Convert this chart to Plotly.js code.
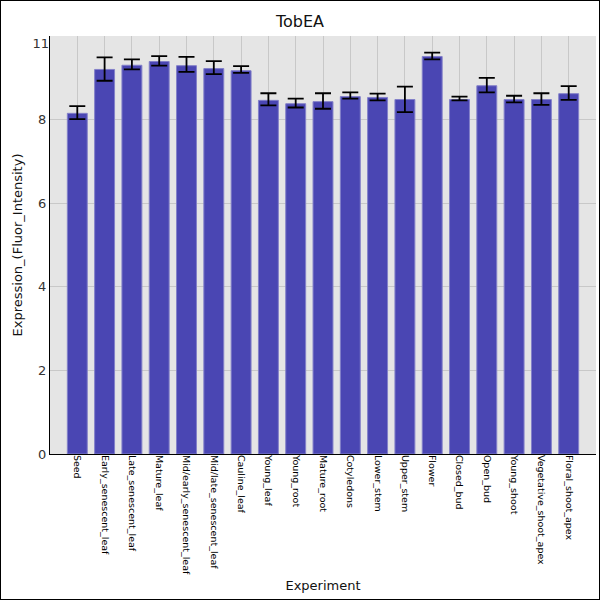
<!DOCTYPE html>
<html>
<head>
<meta charset="utf-8">
<script src="https://cdn.plot.ly/plotly-3.0.1.min.js"></script>
<style>
  body { margin: 0; }
  #wrap { position: relative; width: 600px; height: 600px; }
  #chart { width: 600px; height: 600px; }
  #frame { position: absolute; left: 0; top: 0; width: 600px; height: 600px;
           border: 1px solid #000; box-sizing: border-box; pointer-events: none; }
</style>
</head>
<body>
<div id="wrap">
  <div id="chart"></div>
  <div id="frame"></div>
</div>
<script>
// dados
const experiments = ['Seed', 'Early_senescent_leaf', 'Late_senescent_leaf', 'Mature_leaf',
  'Mid/early_senescent_leaf', 'Mid/late_senescent_leaf', 'Cauline_leaf', 'Young_leaf',
  'Young_root', 'Mature_root', 'Cotyledons', 'Lower_stem', 'Upper_stem', 'Flower',
  'Closed_bud', 'Open_bud', 'Young_shoot', 'Vegetative_shoot_apex', 'Floral_shoot_apex'];
const expression = [8.15, 9.20, 9.30, 9.39, 9.29, 9.22, 9.17, 8.46, 8.38, 8.43,
  8.55, 8.53, 8.48, 9.51, 8.48, 8.81, 8.48, 8.48, 8.62];
const errUp = [0.17, 0.29, 0.14, 0.13, 0.21, 0.18, 0.11, 0.17, 0.12, 0.20,
  0.10, 0.09, 0.31, 0.09, 0.07, 0.19, 0.09, 0.15, 0.18];
const errDown = [0.14, 0.27, 0.10, 0.10, 0.15, 0.13, 0.05, 0.12, 0.09, 0.17,
  0.05, 0.07, 0.30, 0.07, 0.02, 0.16, 0.07, 0.13, 0.15];
const yTicks = [0, 2, 4, 6, 8];
const topTickPos = [9.82];
const topTickText = ['11'];

const fonte = 'DejaVu Sans, sans-serif';

Plotly.newPlot('chart', [{
  type: 'bar',
  x: experiments,
  y: expression,
  marker: { color: '#4a46b3', line: { color: '#8380c9', width: 1 } },
  error_y: { type: 'data', symmetric: false, array: errUp, arrayminus: errDown,
             color: '#000', thickness: 1.8, width: 8 }
}, {
  // só para o rótulo de cima do eixo Y
  type: 'scatter', x: [experiments[0]], y: [0], yaxis: 'y2',
  mode: 'markers', marker: { opacity: 0 }, hoverinfo: 'skip', showlegend: false
}], {
  width: 600, height: 600,
  paper_bgcolor: '#fff',
  plot_bgcolor: '#e5e5e5',
  showlegend: false,
  margin: { l: 50, r: 4, t: 36, b: 146 },
  bargap: 0.27,
  font: { family: fonte, color: '#222' },
  title: { text: 'TobEA', font: { size: 16, family: fonte, color: '#111' }, x: 0.5, y: 0.965, yanchor: 'middle' },
  xaxis: {
    range: [-1, 19],
    tickangle: 90,
    tickfont: { size: 9.5, family: fonte, color: '#000' },
    ticklabelstandoff: -2,
    showgrid: true, gridcolor: '#c8c8c8', gridwidth: 1,
    showline: true, linecolor: '#000', linewidth: 1,
    ticks: '',
    title: { text: 'Experiment', font: { size: 13, family: fonte, color: '#111' }, standoff: 6 },
    automargin: false
  },
  yaxis: {
    range: [0, 10],
    tickvals: yTicks,
    tickfont: { size: 13, family: fonte, color: '#333' },
    showgrid: true, gridcolor: '#c8c8c8', gridwidth: 1,
    zeroline: false,
    showline: true, linecolor: '#000', linewidth: 1,
    ticks: '',
    title: { text: 'Expression_(Fluor_Intensity)', font: { size: 13, family: fonte, color: '#111' }, standoff: 12 },
    automargin: false
  },
  yaxis2: {
    overlaying: 'y', side: 'left', range: [0, 10],
    tickvals: topTickPos, ticktext: topTickText,
    tickfont: { size: 13, family: fonte, color: '#333' },
    showgrid: false, zeroline: false, showline: false, ticks: ''
  }
}, { staticPlot: true });
</script>
</body>
</html>
